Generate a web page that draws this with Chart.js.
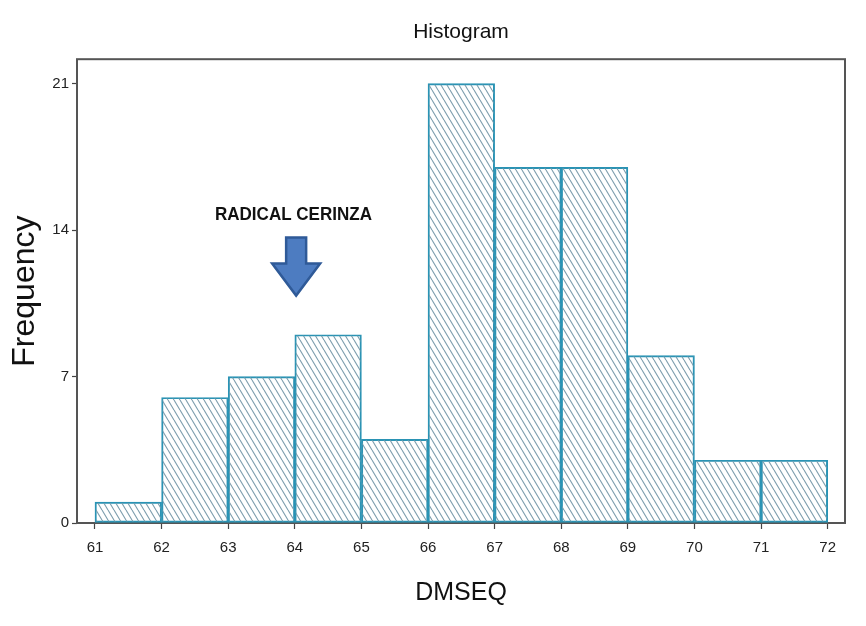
<!DOCTYPE html>
<html><head><meta charset="utf-8">
<script src="https://cdn.jsdelivr.net/npm/chart.js@4"></script>
<style>html,body{margin:0;padding:0;background:#fff}#wrap{width:866px;height:626px}</style>
</head><body><div id="wrap"><canvas id="c" width="866" height="626"></canvas></div>
<script>
// ---- data ----
const binStarts = [61, 62, 63, 64, 65, 66, 67, 68, 69, 70, 71];
const binEnds   = [62, 63, 64, 65, 66, 67, 68, 69, 70, 71, 72];
const counts    = [1, 6, 7, 9, 4, 21, 17, 17, 8, 3, 3];
const xTickValues = [61, 62, 63, 64, 65, 66, 67, 68, 69, 70, 71, 72];
const yTickValues = [0, 7, 14, 21];
const chartTitle = 'Histogram';
const xTitle = 'DMSEQ';
const yTitle = 'Frequency';
const noteText = 'RADICAL CERINZA';

const NARROW = '"Liberation Sans Narrow", "Liberation Sans", Arial, sans-serif';
const SANS = '"Liberation Sans", Arial, sans-serif';

// hatch pattern
function makeHatch() {
  const p = document.createElement('canvas');
  p.width = 6; p.height = 10;
  const g = p.getContext('2d');
  g.strokeStyle = '#7b9cac';
  g.lineWidth = 1.1;
  for (const dx of [-6, 0, 6]) {
    g.beginPath(); g.moveTo(dx, 0); g.lineTo(dx + 6, 10); g.stroke();
  }
  return document.getElementById('c').getContext('2d').createPattern(p, 'repeat');
}

const points = binStarts.map((s, i) => ({ x: (s + binEnds[i]) / 2, y: counts[i] }));

const framePlugin = {
  id: 'frame',
  beforeDatasetsDraw(chart) {
    const { ctx, chartArea: a } = chart;
    ctx.save();
    ctx.strokeStyle = '#555';
    ctx.lineWidth = 2;
    ctx.strokeRect(a.left, a.top, a.right - a.left, a.bottom - a.top);
    ctx.restore();
  }
};

const notePlugin = {
  id: 'note',
  afterDatasetsDraw(chart) {
    const { ctx, scales: { x, y } } = chart;
    ctx.save();
    ctx.font = 'bold 19px ' + NARROW;
    ctx.fillStyle = '#111';
    ctx.textAlign = 'center';
    ctx.textBaseline = 'middle';
    ctx.fillText(noteText, x.getPixelForValue(63.98), y.getPixelForValue(14.74), 157);
    const tx = x.getPixelForValue(64.02), ty = y.getPixelForValue(10.87);
    ctx.beginPath();
    ctx.moveTo(tx - 10, ty - 58);
    ctx.lineTo(tx + 10, ty - 58);
    ctx.lineTo(tx + 10, ty - 32);
    ctx.lineTo(tx + 24, ty - 32);
    ctx.lineTo(tx, ty);
    ctx.lineTo(tx - 24, ty - 32);
    ctx.lineTo(tx - 10, ty - 32);
    ctx.closePath();
    ctx.fillStyle = '#4d7cc1';
    ctx.fill();
    ctx.strokeStyle = '#2f5a98';
    ctx.lineWidth = 2.5;
    ctx.stroke();
    ctx.restore();
  }
};

new Chart(document.getElementById('c'), {
  type: 'bar',
  data: {
    datasets: [{
      data: points,
      backgroundColor: makeHatch(),
      borderColor: '#2a93b4',
      borderWidth: 1.3,
      borderSkipped: false,
      barPercentage: 1,
      categoryPercentage: 1,
      grouped: false
    }]
  },
  options: {
    responsive: false,
    animation: false,
    events: [],
    layout: { padding: { left: 0, right: 21, top: 0, bottom: 0 } },
    plugins: {
      legend: { display: false },
      tooltip: { enabled: false },
      title: {
        display: true, text: chartTitle, fullSize: false,
        color: '#111', font: { family: SANS, size: 21, weight: 'normal' },
        padding: { top: 20, bottom: 14 }
      }
    },
    scales: {
      x: {
        type: 'linear', min: 60.73, max: 72.26, offset: false,
        afterBuildTicks: s => { s.ticks = xTickValues.map(v => ({ value: v })); },
        afterFit: s => { s.height = 103; },
        grid: { display: true, offset: false, drawOnChartArea: false, drawTicks: true, tickLength: 6, tickColor: '#444', tickWidth: 1.2 },
        border: { display: false },
        ticks: { padding: 10, color: '#222', maxRotation: 0, autoSkip: false, font: { family: NARROW, size: 15 } },
        title: { display: true, text: xTitle, color: '#111', font: { family: NARROW, size: 25 }, padding: { top: 0, bottom: 18 } }
      },
      y: {
        min: 0, max: 22.17,
        afterBuildTicks: s => { s.ticks = yTickValues.map(v => ({ value: v })); },
        afterFit: s => { s.width = 77; },
        grid: { display: true, offset: false, drawOnChartArea: false, drawTicks: true, tickLength: 5, tickColor: '#444', tickWidth: 1.2 },
        border: { display: false },
        ticks: { padding: 3, color: '#222', autoSkip: false, font: { family: NARROW, size: 15 } },
        title: { display: true, text: yTitle, color: '#111', font: { family: SANS, size: 32 }, padding: { top: 6, bottom: 0 } }
      }
    }
  },
  plugins: [framePlugin, notePlugin]
});
</script>
</body></html>
